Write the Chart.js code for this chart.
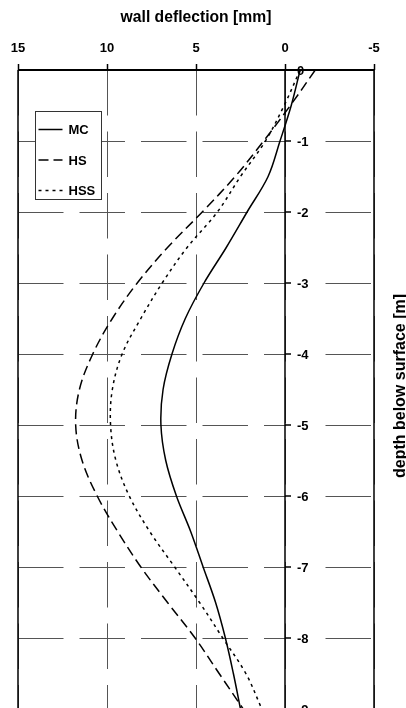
<!DOCTYPE html>
<html>
<head>
<meta charset="utf-8">
<script src="https://cdn.jsdelivr.net/npm/chart.js@4.4.0/dist/chart.umd.min.js"></script>
<style>
  html, body { margin: 0; padding: 0; overflow: hidden; background: #fff; }
  #wrap { position: relative; width: 406px; height: 720px; }
</style>
</head>
<body>
<div id="wrap"><canvas id="c" width="406" height="720"></canvas></div>
<script>
// Depth below surface [m] at which the wall deflection is sampled
const depth = [0, -0.5, -1, -1.5, -2, -2.5, -3, -3.5, -4, -4.5, -5, -5.5, -6, -6.5, -7, -7.5, -8, -8.5, -9];

// Wall deflection [mm] for each constitutive model
const mcDeflection  = [-0.85, -0.35, 0.28, 0.95, 2.13, 3.3, 4.55, 5.6, 6.35, 6.85, 6.97, 6.7, 6.1, 5.3, 4.6, 3.9, 3.35, 2.9, 2.5];
const hsDeflection  = [-1.7, -0.3, 1.2, 2.8, 4.65, 6.6, 8.3, 9.7, 10.8, 11.55, 11.76, 11.4, 10.55, 9.4, 8.1, 6.6, 5.05, 3.7, 2.35];
const hssDeflection = [-0.85, 0.05, 1.1, 2.5, 3.8, 5.5, 6.9, 8.1, 9.15, 9.7, 9.8, 9.5, 8.75, 7.6, 6.2, 4.8, 3.5, 2.2, 1.3];

const seriesLabels = ['MC', 'HS', 'HSS'];
const deflectionRange = [-5, 15];
const depthRange = [-9, 0];

const FONT = '"Liberation Sans", Arial, Helvetica, sans-serif';
Chart.defaults.font.family = FONT;
Chart.defaults.color = '#000';

const toPoints = (xs) => xs.map((x, i) => ({ x: x, y: depth[i] }));

const lineStyle = (label, values, dash) => ({
  label: label,
  data: toPoints(values),
  borderColor: '#000',
  backgroundColor: '#000',
  borderWidth: 1.5,
  borderDash: dash,
  pointRadius: 0,
  tension: 0.35,
  fill: false,
  showLine: true
});

// Frame lines, depth ticks and label backgrounds under the curves
const framePlugin = {
  id: 'frame',
  beforeDatasetsDraw(chart) {
    const { ctx, chartArea: a, scales: { x, y } } = chart;
    const x0 = x.getPixelForValue(0);
    ctx.save();
    // white patches behind the depth labels
    ctx.fillStyle = '#fff';
    y.ticks.forEach(t => {
      if (t.value === 0) return;
      const py = y.getPixelForValue(t.value);
      ctx.fillRect(x0 + 1, py - 7, 25, 14);
    });
    ctx.strokeStyle = '#000';
    // top axis line
    ctx.lineWidth = 2;
    ctx.beginPath();
    ctx.moveTo(a.left, a.top);
    ctx.lineTo(a.right, a.top);
    ctx.stroke();
    // left, right and zero lines
    ctx.lineWidth = 1.5;
    [a.left, a.right, x0].forEach(px => {
      ctx.beginPath();
      ctx.moveTo(px, a.top);
      ctx.lineTo(px, a.bottom);
      ctx.stroke();
    });
    // depth tick marks on the zero line
    y.ticks.forEach(t => {
      const py = y.getPixelForValue(t.value);
      ctx.beginPath();
      ctx.moveTo(x0, py);
      ctx.lineTo(x0 + 6, py);
      ctx.stroke();
    });
    ctx.restore();
  },
  afterDatasetsDraw(chart) {
    const { ctx, scales: { x, y } } = chart;
    const x0 = x.getPixelForValue(0);
    ctx.save();
    // depth labels
    ctx.fillStyle = '#000';
    ctx.font = 'bold 13px ' + FONT;
    ctx.textAlign = 'left';
    ctx.textBaseline = 'middle';
    y.ticks.forEach(t => {
      const py = y.getPixelForValue(t.value);
      ctx.fillText(String(t.value), x0 + 12, py + 1);
    });

    // right-hand axis title
    ctx.save();
    ctx.translate(405, 386);
    ctx.rotate(-Math.PI / 2);
    ctx.font = 'bold 16px ' + FONT;
    ctx.textAlign = 'center';
    ctx.textBaseline = 'alphabetic';
    ctx.fillText('depth below surface [m]', 0, 0);
    ctx.restore();

    // legend
    const bx = 35.5, by = 111.5, bw = 66, bh = 88;
    ctx.fillStyle = '#fff';
    ctx.fillRect(bx, by, bw, bh);
    ctx.strokeStyle = '#333';
    ctx.lineWidth = 1;
    ctx.strokeRect(bx, by, bw, bh);
    chart.data.datasets.forEach((ds, i) => {
      const ly = by + 18 + i * 30.5;
      ctx.strokeStyle = ds.borderColor;
      ctx.lineWidth = ds.borderWidth;
      ctx.setLineDash(ds.borderDash || []);
      ctx.beginPath();
      ctx.moveTo(bx + 3, ly);
      ctx.lineTo(bx + 27, ly);
      ctx.stroke();
      ctx.setLineDash([]);
      ctx.fillStyle = '#000';
      ctx.font = 'bold 13px ' + FONT;
      ctx.textAlign = 'left';
      ctx.textBaseline = 'middle';
      ctx.fillText(ds.label, bx + 33, ly + 1);
    });
    ctx.restore();
  }
};

new Chart(document.getElementById('c'), {
  type: 'scatter',
  data: {
    datasets: [
      lineStyle(seriesLabels[0], mcDeflection, []),
      lineStyle(seriesLabels[1], hsDeflection, [10, 5]),
      lineStyle(seriesLabels[2], hssDeflection, [3, 4])
    ]
  },
  options: {
    responsive: false,
    animation: false,
    events: [],
    layout: { padding: { left: 18, right: 32, top: 0, bottom: 11 } },
    plugins: {
      legend: { display: false },
      tooltip: { enabled: false }
    },
    scales: {
      x: {
        type: 'linear',
        position: 'top',
        reverse: true,
        min: deflectionRange[0],
        max: deflectionRange[1],
        ticks: {
          stepSize: 5,
          padding: 8,
          font: { size: 13, weight: 'bold' },
          color: '#000'
        },
        grid: {
          color: '#555',
          lineWidth: 1,
          drawTicks: true,
          tickLength: 6,
          tickColor: '#000',
          tickWidth: 1.5
        },
        border: { display: false, dash: [45.5, 16] },
        title: {
          display: true,
          text: 'wall deflection [mm]',
          font: { size: 15.7, weight: 'bold' },
          color: '#000',
          padding: { top: 8.5, bottom: 0 }
        },
        afterFit(scale) { scale.height = 70; }
      },
      y: {
        type: 'linear',
        position: 'left',
        min: depthRange[0],
        max: depthRange[1],
        ticks: { stepSize: 1, display: false },
        grid: { color: '#555', lineWidth: 1, drawTicks: false },
        border: { display: false, dash: [45.5, 16] },
        afterFit(scale) { scale.width = 0; }
      }
    }
  },
  plugins: [framePlugin]
});
</script>
</body>
</html>
